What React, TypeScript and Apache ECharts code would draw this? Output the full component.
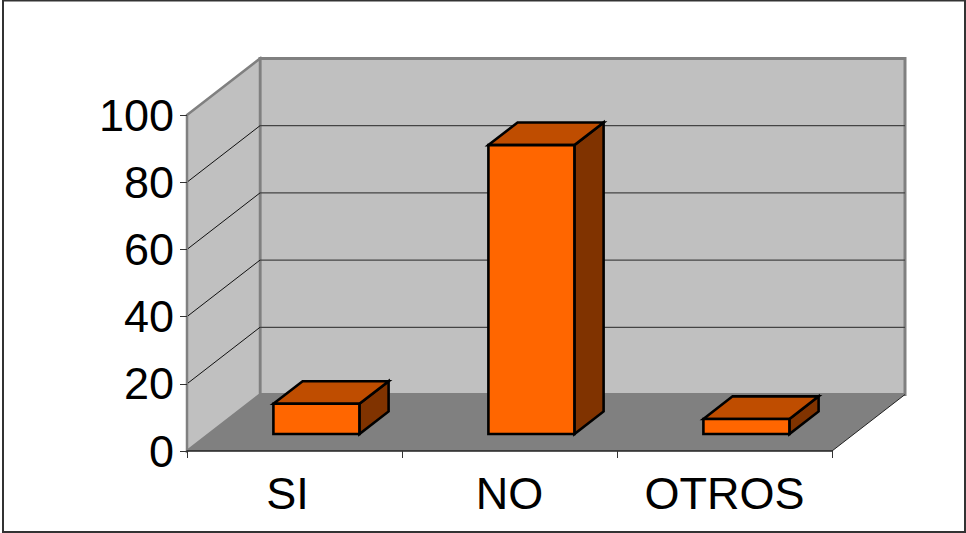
import React, { useEffect, useRef } from "react";
import * as echarts from "echarts";

const categories = ["SI", "NO", "OTROS"];
const values = [9, 86, 4.5];
const yTicks = [20, 40, 60, 80];
const FONT = '"Liberation Sans", Arial, sans-serif';

// oblique projection offsets, in pixels
const DEPTH_X = 73;
const DEPTH_Y = 56.5;
const GAP = 0.3;
const BAR = 0.4;

function renderWalls(params: any, api: any) {
  const c = params.coordSys;
  const l = c.x, r = c.x + c.width, t = c.y, b = c.y + c.height;
  const dx = DEPTH_X, dy = DEPTH_Y;
  return {
    type: "group",
    children: [
      { type: "polygon", shape: { points: [[l + dx, t - dy], [r + dx, t - dy], [r + dx, b - dy], [l + dx, b - dy]] }, style: { fill: "#C0C0C0", stroke: "#808080", lineWidth: 3 } },
      { type: "polygon", shape: { points: [[l, t], [l + dx, t - dy], [l + dx, b - dy], [l, b]] }, style: { fill: "#C0C0C0", stroke: "#808080", lineWidth: 2.5 } },
      { type: "polygon", shape: { points: [[l, b], [l + dx, b - dy], [r + dx, b - dy], [r, b]] }, style: { fill: "#808080", stroke: "none" } },
      { type: "line", shape: { x1: r, y1: b, x2: r + dx, y2: b - dy }, style: { stroke: "#222222", lineWidth: 1 } },
    ],
  };
}

function renderGrid(params: any, api: any) {
  const c = params.coordSys;
  const y = api.coord([0, api.value(1)])[1];
  const l = c.x, r = c.x + c.width;
  return {
    type: "group",
    children: [
      { type: "line", shape: { x1: l, y1: y, x2: l + DEPTH_X, y2: y - DEPTH_Y }, style: { stroke: "#111111", lineWidth: 1 } },
      { type: "line", shape: { x1: l + DEPTH_X, y1: y - DEPTH_Y, x2: r + DEPTH_X, y2: y - DEPTH_Y }, style: { stroke: "#444444", lineWidth: 1.3 } },
    ],
  };
}

function renderBar(params: any, api: any) {
  const idx = api.value(0);
  const band = api.size([1, 0])[0];
  const cx = api.coord([idx, 0])[0];
  const base = api.coord([idx, 0])[1];
  const top = api.coord([idx, api.value(1)])[1];
  const ox = GAP * DEPTH_X;
  const oy = GAP * DEPTH_Y;
  const ddx = BAR * DEPTH_X;
  const ddy = BAR * DEPTH_Y;
  const x0 = cx - (BAR * band) / 2 + ox;
  const x1 = x0 + BAR * band;
  const y0 = top - oy;
  const y1 = base - oy;
  const edge = { stroke: "#000000", lineWidth: 2.6, lineJoin: "miter" };
  return {
    type: "group",
    children: [
      { type: "polygon", shape: { points: [[x1, y0], [x1 + ddx, y0 - ddy], [x1 + ddx, y1 - ddy], [x1, y1]] }, style: { fill: "#803300", ...edge } },
      { type: "polygon", shape: { points: [[x0, y0], [x0 + ddx, y0 - ddy], [x1 + ddx, y0 - ddy], [x1, y0]] }, style: { fill: "#BF4D00", ...edge } },
      { type: "polygon", shape: { points: [[x0, y0], [x1, y0], [x1, y1], [x0, y1]] }, style: { fill: "#FF6600", ...edge } },
    ],
  };
}

export default function App() {
  const ref = useRef<HTMLDivElement>(null);
  useEffect(() => {
    const chart = echarts.init(ref.current!, undefined, { renderer: "svg" });
    chart.setOption({
      animation: false,
      backgroundColor: "#FFFFFF",
      grid: { left: 187, right: 134, top: 115, bottom: 82 },
      graphic: [
        {
          type: "rect",
          silent: true,
          shape: { x: 3, y: 0.5, width: 962, height: 531.5 },
          style: { fill: "none", stroke: "#333333", lineWidth: 2 },
        },
      ],
      xAxis: {
        type: "category",
        data: categories,
        z: 5,
        axisLine: { lineStyle: { color: "#222222", width: 1.5 } },
        axisTick: { show: true, alignWithLabel: false, length: 7, lineStyle: { color: "#333333", width: 1 } },
        axisLabel: {
          color: "#000000",
          fontFamily: FONT,
          fontSize: 45,
          margin: 20,
          interval: 0,
          formatter: (v: string) => (v === "SI" ? `{first|${v}}` : v),
          rich: { first: { fontFamily: FONT, fontSize: 45, color: "#000000", padding: [0, 14, 0, 0] } },
        },
        splitLine: { show: false },
      },
      yAxis: {
        type: "value",
        min: 0,
        max: 100,
        interval: 20,
        z: 5,
        axisLine: { show: true, lineStyle: { color: "#808080", width: 2 } },
        axisTick: { show: true, length: 7, lineStyle: { color: "#333333", width: 1 } },
        axisLabel: { color: "#000000", fontFamily: FONT, fontSize: 45, margin: 13 },
        splitLine: { show: false },
      },
      series: [
        { type: "custom", name: "walls", z: 1, silent: true, clip: false, renderItem: renderWalls, data: [[0, 0]], encode: { x: 0, y: 1 } },
        { type: "custom", name: "grid", z: 2, silent: true, clip: false, renderItem: renderGrid, data: yTicks.map((v) => [0, v]), encode: { x: 0, y: 1 } },
        { type: "custom", name: "bars", z: 6, silent: true, clip: false, renderItem: renderBar, data: values.map((v, i) => [i, v]), encode: { x: 0, y: 1 } },
      ],
    });
    return () => chart.dispose();
  }, []);
  return <div ref={ref} style={{ position: "fixed", left: 0, top: 0, width: 966, height: 533 }} />;
}
